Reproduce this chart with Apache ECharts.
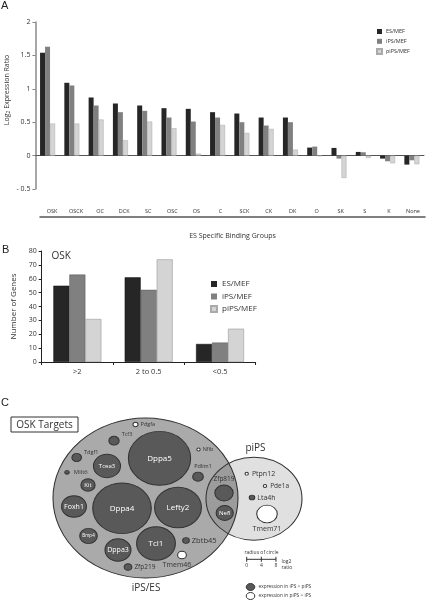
<!DOCTYPE html>
<html><head><meta charset="utf-8">
<script src="https://cdn.jsdelivr.net/npm/echarts@6/dist/echarts.min.js"></script>
<style>html,body{margin:0;padding:0;background:#fff}#c{width:427px;height:600px}</style>
</head><body><div id="c"></div>
<script>
// ---------- Panel A data ----------
const groupsA = ['OSK','OSCK','OC','DCK','SC','OSC','OS','C','SCK','CK','DK','O','SK','S','K','None'];
const esA   = [1.54, 1.09, 0.87, 0.78, 0.75, 0.71, 0.70, 0.65, 0.63, 0.57, 0.57, 0.12, 0.115, 0.055, -0.045, -0.135];
const ipsA  = [1.63, 1.05, 0.75, 0.65, 0.67, 0.57, 0.51, 0.57, 0.50, 0.45, 0.50, 0.135, -0.045, 0.05, -0.085, -0.07];
const pipsA = [0.48, 0.48, 0.54, 0.23, 0.51, 0.41, 0.03, 0.46, 0.34, 0.40, 0.09, -0.005, -0.335, -0.035, -0.115, -0.13];
const ticksA = [-0.5, 0, 0.5, 1, 1.5, 2];
// ---------- Panel B data ----------
const binsB = ['>2', '2 to 0.5', '<0.5'];
const esB   = [55, 61, 13];
const ipsB  = [63, 52, 14];
const pipsB = [31, 74, 24];
const seriesNames = ['ES/MEF', 'iPS/MEF', 'piPS/MEF'];
// ---------- Panel C data (bubble layout) ----------
const genes  = ['Dppa5','Dppa4','Lefty2','Tcl1','Tcea3','Dppa3','Foxh1','Bmp4','Kit','Tcf3','Tdgf1','Mllt6','Pdgfa','Nfib','Pdlim1','Zbtb45','Tmem46','Zfp219','Zfp819','Nefl','Lta4h','Ptpn12','Pde1a','Tmem71'];
const geneX  = [159.5, 122, 178, 156, 107, 118, 74, 88.5, 88, 114, 76.7, 67, 135.5, 198.5, 198, 186, 182, 128, 224, 224.7, 252, 246.7, 265, 267];
const geneY  = [458.3, 508.3, 507.5, 543.5, 466, 550, 506.5, 536, 485, 440.7, 457.5, 472.3, 424.5, 449.5, 476.7, 540.5, 555, 567, 493, 513, 497.5, 473.7, 486, 514];
const geneR  = [8.5, 8.0, 6.4, 5.3, 3.7, 3.55, 3.4, 2.4, 1.95, 1.4, 1.3, 0.6, 0.7, 0.45, 1.45, 0.9, 1.2, 1.05, 2.5, 2.35, 0.75, 0.45, 0.45, 2.8];
// 1 = expression in iPS > piPS (dark), 0 = expression in piPS > iPS (white)
const geneDir = [1,1,1,1,1,1,1,1,1,1,1,1,0,0,1,1,0,1,1,1,1,0,0,1];
geneDir[23] = 0;
const setNames = ['iPS/ES', 'piPS'];
const setX = [145.5, 254];
const setY = [498, 498.7];
const setR = [[185,160],[96,83]];

const FONT = 'Open Sans';
const colors = ['#262626', '#808080', '#d4d4d4'];
const KX = 3.66, KY = KX / 1.156;

const chart = echarts.init(document.getElementById('c'), null, {renderer:'canvas'});

// label styles for C
const inside = (fs) => ({show:true, position:'inside', color:'#fff', fontSize:fs, fontFamily:FONT});
const side = (pos, fs, off) => ({show:true, position:pos, color:'#333', fontSize:fs, fontFamily:FONT, distance:2, offset:off||[0,0]});
const labelStyle = {
  Dppa5: inside(8), Dppa4: inside(8), Lefty2: inside(8), Tcl1: inside(8), Tcea3: inside(6),
  Dppa3: inside(7), Foxh1: inside(7), Bmp4: inside(4.5), Kit: inside(6), Nefl: inside(6),
  Tcf3: side('right', 5.5, [0,-6]), Tdgf1: side('right', 5.5, [0,-5]), Mllt6: side('right', 6, [2,0]),
  Pdgfa: side('right', 5.5), Nfib: side('right', 5.5), Pdlim1: side('top', 5.5, [5,0]),
  Zbtb45: side('right', 7.5), Tmem46: side('bottom', 7, [-5,0]), Zfp219: side('right', 6.5),
  Zfp819: side('top', 6.5), Lta4h: side('right', 7), Ptpn12: side('right', 7, [1,0]),
  Pde1a: side('right', 6.5, [1,0]), Tmem71: side('bottom', 7)
};

const geneData = genes.map((g, i) => ({
  name: g,
  value: [geneX[i], geneY[i]],
  symbolSize: [2*geneR[i]*KX, 2*geneR[i]*KY],
  itemStyle: {color: geneDir[i] ? '#595959' : '#ffffff', borderColor:'#333', borderWidth:1},
  label: Object.assign({formatter:'{b}'}, labelStyle[g])
}));

const barCommon = {type:'bar', barGap:'0%', silent:true};
const option = {
  animation: false,
  textStyle: {fontFamily: FONT},
  grid: [
    {left:35.4, right:3, top:22, height:167},
    {left:40, right:2, top:200, height:17},
    {left:41.7, right:171.3, top:251, height:111},
    {left:0, right:0, top:380, bottom:0}
  ],
  xAxis: [
    {gridIndex:0, type:'category', data:groupsA, axisLine:{onZero:true, lineStyle:{color:'#555', width:1}}, axisTick:{show:false}, axisLabel:{show:false}},
    {gridIndex:1, type:'category', data:groupsA, position:'bottom',
      axisLine:{lineStyle:{color:'#555', width:1.5}}, axisTick:{show:false},
      axisLabel:{inside:true, margin:3, fontSize:5.5, color:'#333'},
      name:'ES Specific Binding Groups', nameLocation:'middle', nameGap:15, nameTextStyle:{fontSize:7, color:'#333'}},
    {gridIndex:2, type:'category', data:binsB, axisLine:{lineStyle:{color:'#222', width:1}},
      axisTick:{show:true, length:3, lineStyle:{color:'#222'}}, axisLabel:{fontSize:7.5, color:'#333', margin:6}},
    {gridIndex:3, type:'value', min:0, max:427, show:false}
  ],
  yAxis: [
    {gridIndex:0, type:'value', min:-0.5, max:2, interval:0.5, splitLine:{show:false},
      axisLine:{show:true, lineStyle:{color:'#888', width:1.5}}, axisTick:{show:true, length:3, lineStyle:{color:'#888'}},
      axisLabel:{fontSize:7, color:'#333', margin:5, formatter:(v)=> ticksA.includes(v) ? (v<0 ? '- ' + Math.abs(v) : String(v)) : ''}},
    {gridIndex:1, type:'value', show:false},
    {gridIndex:2, type:'value', min:0, max:80, interval:10, splitLine:{show:false},
      axisLine:{show:true, lineStyle:{color:'#222', width:1}}, axisTick:{show:true, length:3, lineStyle:{color:'#222'}},
      axisLabel:{fontSize:7, color:'#333', margin:5},
      name:'Number of Genes', nameLocation:'middle', nameGap:24, nameTextStyle:{fontSize:8, color:'#333'}},
    {gridIndex:3, type:'value', min:380, max:600, inverse:true, show:false}
  ],
  legend: [
    {data:seriesNames, orient:'vertical', left:371, top:23.5, itemWidth:5, itemHeight:5, itemGap:3.8,
      textStyle:{fontSize:5.5, lineHeight:5, color:'#333', padding:[0,0,0,-1]}, icon:'rect', selectedMode:false},
    {data:seriesNames, orient:'vertical', left:205, top:275, itemWidth:6, itemHeight:6, itemGap:4.5,
      textStyle:{fontSize:8, lineHeight:6, color:'#333'}, icon:'rect', selectedMode:false}
  ],
  series: [
    Object.assign({name:seriesNames[0], xAxisIndex:0, yAxisIndex:0, data:esA, barWidth:5, itemStyle:{color:colors[0]}}, barCommon),
    Object.assign({name:seriesNames[1], xAxisIndex:0, yAxisIndex:0, data:ipsA, barWidth:5, itemStyle:{color:colors[1]}}, barCommon),
    Object.assign({name:seriesNames[2], xAxisIndex:0, yAxisIndex:0, data:pipsA, barWidth:5, itemStyle:{color:colors[2], borderColor:'#aaa', borderWidth:0.5}}, barCommon),
    Object.assign({name:seriesNames[0], xAxisIndex:2, yAxisIndex:2, data:esB, barWidth:16, itemStyle:{color:colors[0], borderColor:'#111', borderWidth:0.5}}, barCommon),
    Object.assign({name:seriesNames[1], xAxisIndex:2, yAxisIndex:2, data:ipsB, barWidth:16, itemStyle:{color:colors[1], borderColor:'#555', borderWidth:0.5}}, barCommon),
    Object.assign({name:seriesNames[2], xAxisIndex:2, yAxisIndex:2, data:pipsB, barWidth:16, itemStyle:{color:colors[2], borderColor:'#999', borderWidth:0.6}}, barCommon),
    // Panel C: set ellipses
    {type:'scatter', xAxisIndex:3, yAxisIndex:3, silent:true, z:1, clip:false,
      data:[{name:setNames[1], value:[setX[1], setY[1]], symbolSize:setR[1]}], itemStyle:{color:'#f3f3f3', opacity:1}},
    {type:'scatter', xAxisIndex:3, yAxisIndex:3, silent:true, z:2, clip:false,
      data:[{name:setNames[0], value:[setX[0], setY[0]], symbolSize:setR[0]}], itemStyle:{color:'#aaaaaa', borderColor:'#333', borderWidth:1, opacity:1}},
    {type:'scatter', xAxisIndex:3, yAxisIndex:3, silent:true, z:3, clip:false,
      data:[{name:setNames[1], value:[setX[1], setY[1]], symbolSize:setR[1]}], itemStyle:{color:'rgba(0,0,0,0.08)', borderColor:'#333', borderWidth:1, opacity:1}},
    {type:'scatter', xAxisIndex:3, yAxisIndex:3, silent:true, z:4, clip:false, data:geneData, itemStyle:{opacity:1}}
  ],
  graphic: []
};

const g = option.graphic;
const T = (text, x, y, fs, extra) => g.push({type:'text', x, y, silent:true, style:Object.assign({text, fontSize:fs, fontFamily:FONT, fill:'#333', align:'left', verticalAlign:'middle'}, extra||{})});
// panel letters
T('A', 1, 6, 11, {fontFamily:'Liberation Sans', fill:'#222'});
T('B', 2, 250, 11, {fontFamily:'Liberation Sans', fill:'#222'});
T('C', 1, 403, 11, {fontFamily:'Liberation Sans', fill:'#222'});
// A y-axis name
g.push({type:'text', x:7, y:90, rotation:Math.PI/2, silent:true, style:{
  text:'{a|Log}{s|2}{a| Expression Ratio}', align:'center', verticalAlign:'middle', fill:'#333',
  rich:{a:{fontSize:7, fontFamily:FONT, fill:'#333'}, s:{fontSize:5, fontFamily:FONT, fill:'#333', padding:[4,0,0,0]}}}});
// B OSK
T('OSK', 51.5, 256, 10);
// C: OSK Targets box
g.push({type:'rect', shape:{x:11, y:417, width:67, height:15}, silent:true, style:{fill:'#fff', stroke:'#333', lineWidth:1}});
T('OSK Targets', 44.5, 424.8, 10, {align:'center'});
T('piPS', 255.5, 448, 10, {align:'center'});
T('iPS/ES', 146, 588.5, 10, {align:'center'});
// radius scale key
const sx0 = 246.7, sy = 559.3;
T('radius of circle', 261.5, 552.5, 5, {align:'center'});
g.push({type:'line', shape:{x1:sx0, y1:sy, x2:sx0 + 8*KX, y2:sy}, silent:true, style:{stroke:'#333', lineWidth:1}});
[0,4,8].forEach(v => {
  g.push({type:'line', shape:{x1:sx0 + v*KX, y1:sy-2.5, x2:sx0 + v*KX, y2:sy+2.5}, silent:true, style:{stroke:'#333', lineWidth:1}});
  T(String(v), sx0 + v*KX, 565.8, 5, {align:'center'});
});
T('log2', 281.5, 561.5, 5);
T('ratio', 281.5, 567.8, 5);
// direction key
g.push({type:'ellipse', shape:{cx:250.5, cy:587, rx:4.3, ry:3.5}, silent:true, style:{fill:'#595959', stroke:'#333', lineWidth:1}});
g.push({type:'ellipse', shape:{cx:250.5, cy:596, rx:4.3, ry:3.5}, silent:true, style:{fill:'#fff', stroke:'#333', lineWidth:1}});
T('expression in iPS > piPS', 258.5, 587, 4.8);
T('expression in piPS > iPS', 258.5, 596, 4.8);

chart.setOption(option);
</script></body></html>
